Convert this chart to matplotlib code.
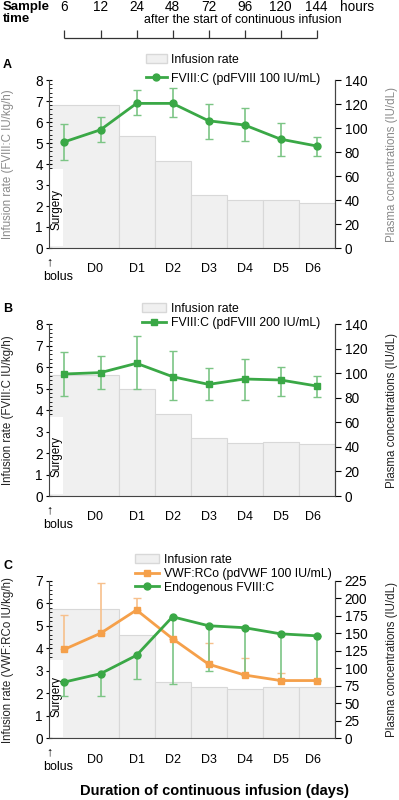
import numpy as np
import matplotlib.pyplot as plt
from matplotlib.patches import Rectangle, Patch
from matplotlib.lines import Line2D

plt.rcParams['font.family'] = ['Liberation Sans', 'DejaVu Sans']

# sample times (hours after start of continuous infusion)
hours = [6, 12, 24, 48, 72, 96, 120, 144]
days = ['D0', 'D1', 'D2', 'D3', 'D4', 'D5', 'D6']

# infusion rate per period (IU/kg/h)
rate_a = [6.8, 5.35, 4.13, 2.52, 2.27, 2.27, 2.12]
rate_b = [5.62, 4.98, 3.83, 2.72, 2.45, 2.5, 2.41]
rate_c = [5.75, 4.6, 2.52, 2.27, 2.19, 2.27, 2.27]
surgery_h = [3.7, 3.6, 3.4]

# plasma levels (IU/dL), with low / high ends of error bars
fviii_a = [88.5, 98.5, 120.5, 120.5, 106, 102.5, 90.7, 85]
fviii_a_lo = [73.7, 88, 110.7, 108.8, 90.7, 89, 76.8, 76.8]
fviii_a_hi = [103, 108.8, 131.6, 133, 120.4, 116.3, 104.3, 92.6]

fviii_b = [99.5, 100.6, 108.2, 97.3, 91, 95.4, 94.6, 89.7]
fviii_b_lo = [81.8, 87.2, 87.2, 78, 78, 78, 81.8, 81]
fviii_b_hi = [117.7, 114.4, 130.7, 118.5, 104.6, 111.5, 105.5, 98.1]

vwf_c = [127.3, 150.2, 183.5, 142.5, 106, 90.5, 82.6, 82.6]
vwf_c_hi = [176.4, 222.6, 200.2, 142.5, 136.5, 114.4, 93, 82.6]
endo_c = [80.5, 92.4, 118.7, 173.8, 161, 158.2, 149.4, 146.6]
endo_c_lo = [60.5, 60.5, 85.3, 77.2, 96.3, 90.5, 83.4, 83.4]

GREEN = '#3aa846'
GREEN_ERR = '#7cc585'
ORANGE = '#f5a04a'
ORANGE_ERR = '#f7c08c'
BAR = '#f0f0f0'
BAR_EDGE = '#d8d8d8'

W, H = 399, 800
x0, x1 = 49, 335
xlim = (-0.43, 7.51)
edges = [-0.43, 1.5, 2.5, 3.5, 4.5, 5.5, 6.5, 7.51]
day_pos = [0.85, 2, 3, 4, 5, 6, 6.9]
xs = np.arange(len(hours))

fig = plt.figure(figsize=(W / 100, H / 100), dpi=100)


def px_axes(top, bottom):
    return fig.add_axes([x0 / W, 1 - bottom / H, (x1 - x0) / W, (bottom - top) / H])


def panel(top, bottom, rate, surg, ymax, rmax, rstep, letter, lab_color, llab):
    ax = px_axes(top, bottom)
    ax.set_xlim(*xlim)
    ax.set_ylim(0, ymax)
    ax.bar(edges[:-1], rate, width=np.diff(edges), align='edge', color=BAR,
           edgecolor=BAR_EDGE, linewidth=0.8, zorder=1)
    ax.add_patch(Rectangle((xlim[0], 0.08), 0.39, surg, fc='white', ec='none', zorder=2))
    ax.text(-0.23, 1.85, 'Surgery', rotation=90, ha='center', va='center',
            fontsize=8.5, zorder=3)
    ax.set_yticks(range(ymax + 1))
    ax.yaxis.set_minor_locator(plt.MultipleLocator(0.2))
    ax.tick_params(axis='y', which='major', direction='inout', length=5, labelsize=9.8, pad=2)
    ax.tick_params(axis='y', which='minor', direction='in', length=2.5)
    ax.set_xticks(day_pos, days)
    ax.tick_params(axis='x', length=0, labelsize=9, pad=11)
    ax.spines['top'].set_visible(False)
    for s in ('left', 'right', 'bottom'):
        ax.spines[s].set_color('#444444')
    ax.annotate('\u2191', xy=(xlim[0], 0), xytext=(0, -14), textcoords='offset pixels',
                ha='center', va='center', fontsize=9)
    ax.annotate('bolus', xy=(xlim[0], 0), xytext=(9, -29), textcoords='offset pixels',
                ha='center', va='center', fontsize=9)
    ax.set_ylabel(llab, fontsize=8.3, color=lab_color)
    ax.yaxis.set_label_coords(-0.124, 0.5)

    ax2 = ax.twinx()
    ax2.set_ylim(0, rmax)
    ax2.set_yticks(np.arange(0, rmax + 1, rstep))
    ax2.tick_params(axis='y', direction='out', length=4, labelsize=9.8, pad=3)
    for s in ('top', 'left', 'bottom'):
        ax2.spines[s].set_visible(False)
    ax2.spines['right'].set_color('#444444')
    ax2.set_ylabel('Plasma concentrations (IU/dL)', fontsize=8.3, color=lab_color)
    ax2.yaxis.set_label_coords(1.177, 0.5)

    fig.text(3 / W, 1 - (top - 15) / H, letter, fontsize=9, fontweight='bold',
             ha='left', va='center')
    return ax, ax2


def legend(ax2, handles, labels, xy, spacing, hl):
    ax2.legend(handles, labels, loc='upper left', bbox_to_anchor=(xy[0] / W, 1 - xy[1] / H),
               bbox_transform=fig.transFigure, frameon=False, fontsize=8.8, borderpad=0,
               borderaxespad=0, labelspacing=spacing, handlelength=hl, handletextpad=0.35)


bar_handle = Patch(facecolor=BAR, edgecolor=BAR_EDGE)

# panel A
ax, ax2 = panel(80, 248, rate_a, surgery_h[0], 8, 140, 20, 'A', '#8a8a8a',
                'Infusion rate (FVIII:C IU/kg/h)')
lo = np.array(fviii_a) - np.array(fviii_a_lo)
hi = np.array(fviii_a_hi) - np.array(fviii_a)
ax2.errorbar(xs, fviii_a, yerr=[lo, hi], fmt='none', ecolor=GREEN_ERR, elinewidth=1.2,
             capsize=3, capthick=1)
ax2.plot(xs, fviii_a, color=GREEN, lw=2, marker='o', ms=5)
legend(ax2, [bar_handle, Line2D([], [], color=GREEN, lw=2, marker='o', ms=5)],
       ['Infusion rate', 'FVIII:C (pdFVIII 100 IU/mL)'], (146, 54), 0.55, 1.7)

# panel B
ax, ax2 = panel(324.3, 496, rate_b, surgery_h[1], 8, 140, 20, 'B', '#222222',
                'Infusion rate (FVIII:C IU/kg/h)')
lo = np.array(fviii_b) - np.array(fviii_b_lo)
hi = np.array(fviii_b_hi) - np.array(fviii_b)
ax2.errorbar(xs, fviii_b, yerr=[lo, hi], fmt='none', ecolor=GREEN_ERR, elinewidth=1.2,
             capsize=3, capthick=1)
ax2.plot(xs, fviii_b, color=GREEN, lw=2, marker='s', ms=5)
legend(ax2, [bar_handle, Line2D([], [], color=GREEN, lw=2, marker='s', ms=5)],
       ['Infusion rate', 'FVIII:C (pdFVIII 200 IU/mL)'], (142, 303), 0.15, 2.0)

# panel C
ax, ax2 = panel(581, 738.3, rate_c, surgery_h[2], 7, 225, 25, 'C', '#222222',
                'Infusion rate (VWF:RCo IU/kg/h)')
hi = np.array(vwf_c_hi) - np.array(vwf_c)
ax2.errorbar(xs, vwf_c, yerr=[np.zeros(len(xs)), hi], fmt='none', ecolor=ORANGE_ERR,
             elinewidth=1.2, capsize=3, capthick=1)
lo = np.array(endo_c) - np.array(endo_c_lo)
ax2.errorbar(xs, endo_c, yerr=[lo, np.zeros(len(xs))], fmt='none', ecolor=GREEN_ERR,
             elinewidth=1.2, capsize=3, capthick=1)
ax2.plot(xs, vwf_c, color=ORANGE, lw=2, marker='s', ms=5)
ax2.plot(xs, endo_c, color=GREEN, lw=2, marker='o', ms=5)
legend(ax2, [bar_handle, Line2D([], [], color=ORANGE, lw=2, marker='s', ms=5),
             Line2D([], [], color=GREEN, lw=2, marker='o', ms=5)],
       ['Infusion rate', 'VWF:RCo (pdVWF 100 IU/mL)', 'Endogenous FVIII:C'],
       (135, 554), 0.15, 2.0)

fig.text(214 / W, 1 - 791 / H, 'Duration of continuous infusion (days)', fontsize=10.5,
         fontweight='bold', ha='center', va='center')

# header: sample time ruler
axh = px_axes(0, 45)
axh.set_xlim(*xlim)
axh.set_ylim(45, 0)
axh.axis('off')
for i, h in enumerate(hours):
    axh.text(i, 7, str(h), ha='center', va='center', fontsize=9.8)
axh.vlines(xs, 30, 38, color='#333333', lw=0.9)
axh.hlines(38, xs[0], xs[-1], color='#333333', lw=0.9)
axh.text(8.12, 7, 'hours', ha='center', va='center', fontsize=9.8, clip_on=False)
axh.text(4.96, 20, 'after the start of continuous infusion', ha='center', va='center',
         fontsize=8.9)
fig.text(3 / W, 1 - 13 / H, 'Sample\ntime', fontsize=9.5, fontweight='bold',
         ha='left', va='center', linespacing=1.1)

fig.savefig('out.png', dpi=100)
